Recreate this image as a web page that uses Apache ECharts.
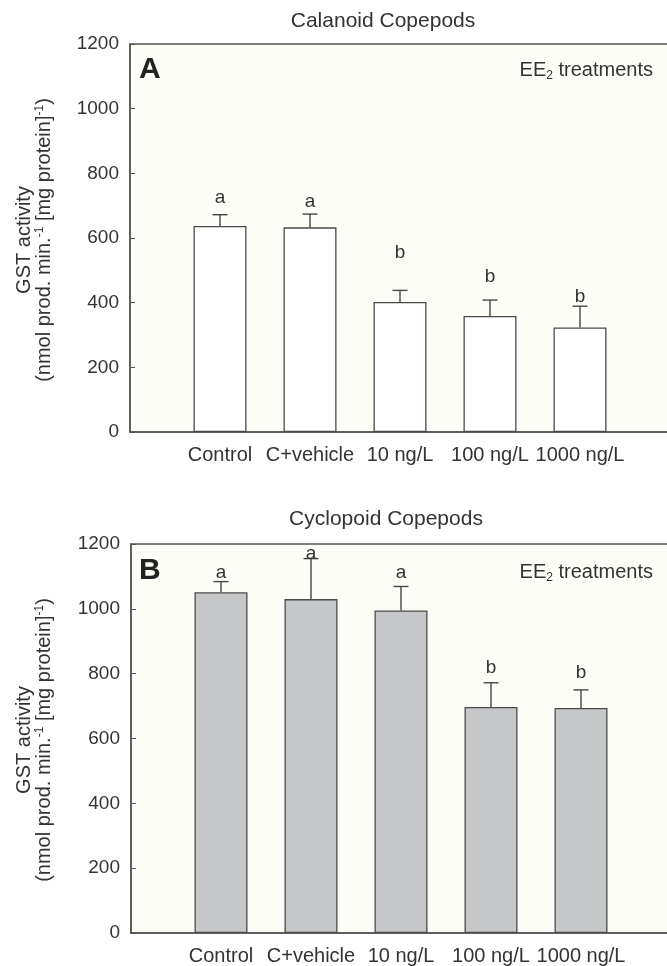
<!DOCTYPE html>
<html>
<head>
<meta charset="utf-8">
<script src="https://cdn.jsdelivr.net/npm/echarts@6/dist/echarts.min.js"></script>
<style>
html,body{margin:0;padding:0;background:#fff;}
#chart{width:667px;height:966px;}
</style>
</head>
<body>
<div id="chart"></div>
<script>
var categories = ['Control', 'C+vehicle', '10 ng/L', '100 ng/L', '1000 ng/L'];
var yTicks = [0, 200, 400, 600, 800, 1000, 1200];

var calanoidMean = [637, 633, 402, 359, 323];
var calanoidErr = [35, 41, 36, 49, 66];
var calanoidLetters = ['a', 'a', 'b', 'b', 'b'];
var calanoidLetterY = [724, 712, 554, 480, 418];

var cyclopoidMean = [1051, 1030, 995, 697, 694];
var cyclopoidErr = [33, 125, 74, 75, 56];
var cyclopoidLetters = ['a', 'a', 'a', 'b', 'b'];
var cyclopoidLetterY = [1110, 1170, 1110, 817, 802];

var FONT = 'Liberation Sans, Arial, Helvetica, sans-serif';
var axisCats = [''].concat(categories, ['']);
function pad(arr) { return [null].concat(arr, [null]); }

function errItems(mean, err) {
  return mean.map(function (m, i) { return [i + 1, m, m + err[i]]; });
}
function letterItems(letters, ys) {
  return letters.map(function (l, i) { return [i + 1, ys[i], l]; });
}
function errRender(params, api) {
  var x = api.value(0);
  var p0 = api.coord([x, api.value(1)]);
  var p1 = api.coord([x, api.value(2)]);
  var hw = 7.5;
  var st = { stroke: '#454545', lineWidth: 1.4 };
  return { type: 'group', children: [
    { type: 'line', shape: { x1: p0[0], y1: p0[1], x2: p1[0], y2: p1[1] }, style: st },
    { type: 'line', shape: { x1: p1[0] - hw, y1: p1[1], x2: p1[0] + hw, y2: p1[1] }, style: st }
  ] };
}
function letterRender(params, api) {
  var p = api.coord([api.value(0), api.value(1)]);
  return { type: 'text', x: p[0], y: p[1], style: {
    text: api.value(2), fill: '#333', font: '19px ' + FONT, align: 'center', verticalAlign: 'middle' } };
}

var grids = [
  { left: 130, top: 44, width: 540, height: 388 },
  { left: 131, top: 544, width: 540, height: 389 }
];

function xAxisFor(i) {
  return {
    gridIndex: i, type: 'category', data: axisCats, boundaryGap: false,
    axisLine: { lineStyle: { color: '#555', width: 1.5 } },
    axisTick: { show: false },
    axisLabel: { color: '#333', fontSize: 20, fontFamily: FONT, margin: 13, interval: 0 },
    splitLine: { show: false }
  };
}
function yAxisFor(i) {
  return {
    gridIndex: i, type: 'value', min: yTicks[0], max: yTicks[yTicks.length - 1], interval: 200,
    axisLine: { show: true, lineStyle: { color: '#555', width: 1.5 } },
    axisTick: { show: true, inside: true, length: 5, lineStyle: { color: '#555' } },
    axisLabel: { color: '#333', fontSize: 19, fontFamily: FONT, margin: 11,
      formatter: function (v) { return String(v); } },
    splitLine: { show: false }
  };
}

var ylabRich = {
  n: { fontSize: 20, fontFamily: FONT, fill: '#333', lineHeight: 20 },
  s: { fontSize: 12, fontFamily: FONT, fill: '#333', lineHeight: 20, verticalAlign: 'top', padding: [0, 0, 10, 0] }
};
function yLabel(cy) {
  return { type: 'text', x: 34, y: cy, rotation: Math.PI / 2, style: {
    text: '{n|GST activity}\n{n|(nmol prod. min.}{s|-1}{n| [mg protein]}{s|-1}{n|)}',
    rich: ylabRich, align: 'center', verticalAlign: 'middle', fill: '#333' } };
}
function eeLabel(y) {
  return { type: 'text', x: 653, y: y, style: {
    text: '{n|EE}{s|2}{n| treatments}', align: 'right', verticalAlign: 'middle',
    rich: { n: { fontSize: 20, fontFamily: FONT, fill: '#333', lineHeight: 22 },
            s: { fontSize: 12, fontFamily: FONT, fill: '#333', lineHeight: 22, padding: [12, 0, 0, 0] } } } };
}
function titleText(t, x, y) {
  return { type: 'text', x: x, y: y, style: { text: t, font: '21px ' + FONT, fill: '#333',
    align: 'center', verticalAlign: 'middle' } };
}

var option = {
  backgroundColor: '#ffffff',
  animation: false,
  grid: grids.map(function (g) {
    return Object.assign({ show: true, backgroundColor: '#fdfdf8', borderColor: '#555', borderWidth: 1.5,
      outerBoundsMode: 'none', containLabel: false }, g);
  }),
  xAxis: [xAxisFor(0), xAxisFor(1)],
  yAxis: [yAxisFor(0), yAxisFor(1)],
  graphic: [
    titleText('Calanoid Copepods', 383, 21),
    titleText('Cyclopoid Copepods', 386, 519),
    yLabel(240), yLabel(740),
    { type: 'text', x: 139, y: 70, style: { text: 'A', font: 'bold 30px ' + FONT, fill: '#222', verticalAlign: 'middle' } },
    { type: 'text', x: 139, y: 571, style: { text: 'B', font: 'bold 30px ' + FONT, fill: '#222', verticalAlign: 'middle' } },
    eeLabel(70), eeLabel(572)
  ],
  series: [
    { type: 'bar', xAxisIndex: 0, yAxisIndex: 0, data: pad(calanoidMean), barWidth: 53,
      itemStyle: { color: '#ffffff', borderColor: '#4a4a4a', borderWidth: 1.3 } },
    { type: 'custom', xAxisIndex: 0, yAxisIndex: 0, data: errItems(calanoidMean, calanoidErr), renderItem: errRender, z: 5 },
    { type: 'custom', xAxisIndex: 0, yAxisIndex: 0, data: letterItems(calanoidLetters, calanoidLetterY), renderItem: letterRender, z: 6 },
    { type: 'bar', xAxisIndex: 1, yAxisIndex: 1, data: pad(cyclopoidMean), barWidth: 53,
      itemStyle: { color: '#c5c7c9', borderColor: '#4a4a4a', borderWidth: 1.3 } },
    { type: 'custom', xAxisIndex: 1, yAxisIndex: 1, data: errItems(cyclopoidMean, cyclopoidErr), renderItem: errRender, z: 5 },
    { type: 'custom', xAxisIndex: 1, yAxisIndex: 1, data: letterItems(cyclopoidLetters, cyclopoidLetterY), renderItem: letterRender, z: 6 }
  ]
};

var chart = echarts.init(document.getElementById('chart'), null, { renderer: 'canvas' });
chart.setOption(option);
</script>
</body>
</html>
